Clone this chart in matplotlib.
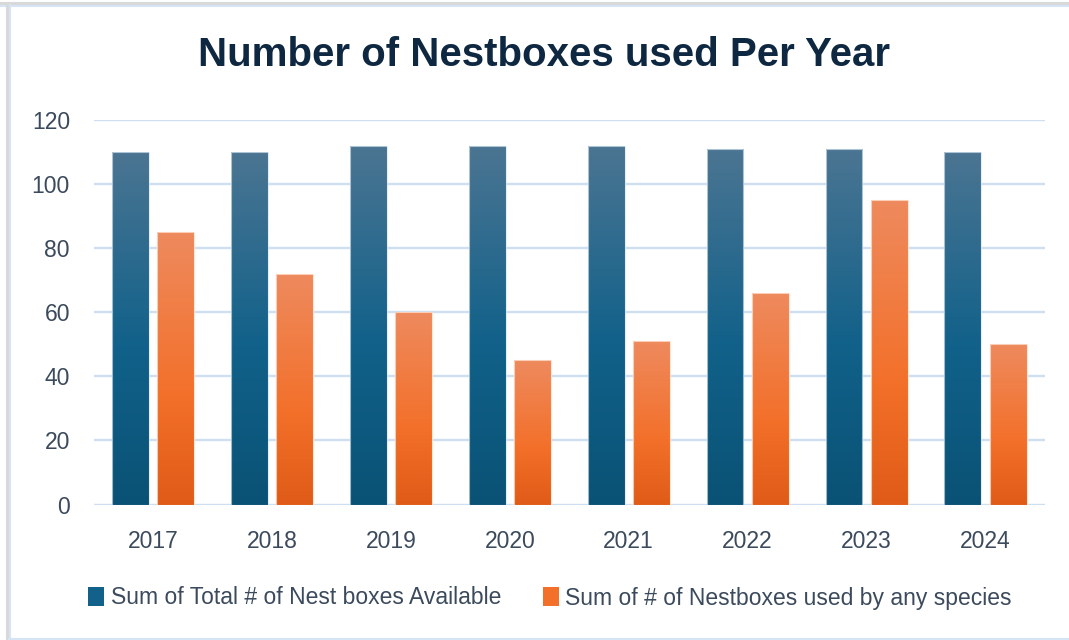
import matplotlib
matplotlib.use("Agg")
import matplotlib.pyplot as plt
import numpy as np
from matplotlib.colors import LinearSegmentedColormap
from matplotlib.patches import Patch
from matplotlib.lines import Line2D

# values
years = ["2017", "2018", "2019", "2020", "2021", "2022", "2023", "2024"]
available = [110, 110, 112, 112, 112, 111, 111, 110]
used = [85, 72, 60, 45, 51, 66, 95, 50]
series_names = ["Sum of Total # of Nest boxes Available",
                "Sum of # of Nestboxes used by any species"]

narrow = ["Liberation Sans Narrow", "Liberation Sans", "DejaVu Sans"]
plain = ["Liberation Sans", "DejaVu Sans"]
text_col = "#3b4a5c"

# gradients: top -> middle -> bottom
blue_cmap = LinearSegmentedColormap.from_list(
    "blue", [(0, "#4b7592"), (0.55, "#11618a"), (1, "#0a5275")])
orange_cmap = LinearSegmentedColormap.from_list(
    "orange", [(0, "#ee8a5e"), (0.6, "#f3702a"), (1, "#df5b17")])

fig = plt.figure(figsize=(10.69, 6.4), dpi=100)
ax = fig.add_axes([93.5 / 1069, 1 - 504.5 / 640,
                   (1045 - 93.5) / 1069, (504.5 - 120) / 640])

x = np.arange(len(years))
w = 0.31
off = 0.19
bars_a = ax.bar(x - off, available, w, color="none",
                edgecolor=(0.85, 0.9, 0.95, 0.7), lw=0.8, zorder=3)
bars_u = ax.bar(x + off, used, w, color="none",
                edgecolor=(1, 0.88, 0.8, 0.8), lw=0.8, zorder=3)

grad = np.linspace(0, 1, 256).reshape(-1, 1)
for bars, cmap in [(bars_a, blue_cmap), (bars_u, orange_cmap)]:
    for r in bars:
        x0, y0 = r.get_x(), r.get_y()
        im = ax.imshow(grad, cmap=cmap, aspect="auto", origin="upper",
                       extent=(x0, x0 + r.get_width(), y0, y0 + r.get_height()),
                       zorder=2)
        im.set_clip_path(r)

ax.set_xlim(-0.5, len(years) - 0.5)
ax.set_ylim(0, 120)
ax.set_yticks(range(0, 121, 20))
ax.set_xticks(x)
ax.set_xticklabels(years)
ax.yaxis.grid(True, color="#cfdff2", lw=1.7, zorder=0)
ax.set_axisbelow(True)
for s in ax.spines.values():
    s.set_visible(False)
ax.tick_params(axis="both", length=0, labelcolor=text_col, labelsize=16.5)
ax.tick_params(axis="y", pad=17)
ax.tick_params(axis="x", pad=18)
for lab in ax.get_xticklabels() + ax.get_yticklabels():
    lab.set_family(plain)

fig.text(543.5 / 1069, 1 - 55 / 640, "Number of Nestboxes used Per Year",
         ha="center", va="center", fontsize=29, fontweight="bold",
         color="#0e2841", family=narrow)

handles = [Patch(facecolor="#11618a", edgecolor="none"),
           Patch(facecolor="#f3702a", edgecolor="none")]
fig.legend(handles, series_names, loc="center",
           bbox_to_anchor=(550 / 1069, 1 - 598 / 640), ncol=2, frameon=False,
           handlelength=0.7, handleheight=0.9, handletextpad=0.3,
           columnspacing=1.8, prop={"family": narrow, "size": 16.5},
           labelcolor=text_col)

# screenshot frame
fig.add_artist(Line2D([0, 1], [1 - 3 / 640] * 2, color="#d9d9d9", lw=2.2))
fig.add_artist(Line2D([0, 1], [1 - 5.5 / 640] * 2, color="#d6e5f6", lw=1.5))
fig.add_artist(Line2D([7 / 1069] * 2, [0, 1 - 3 / 640], color="#d9d9d9", lw=2.2))
fig.add_artist(Line2D([9.5 / 1069] * 2, [0, 1 - 5 / 640], color="#d6e5f6", lw=1.5))
fig.add_artist(Line2D([9 / 1069, 1], [1.2 / 640] * 2, color="#d6e5f6", lw=1.5))

fig.savefig("out.png", dpi=100)
